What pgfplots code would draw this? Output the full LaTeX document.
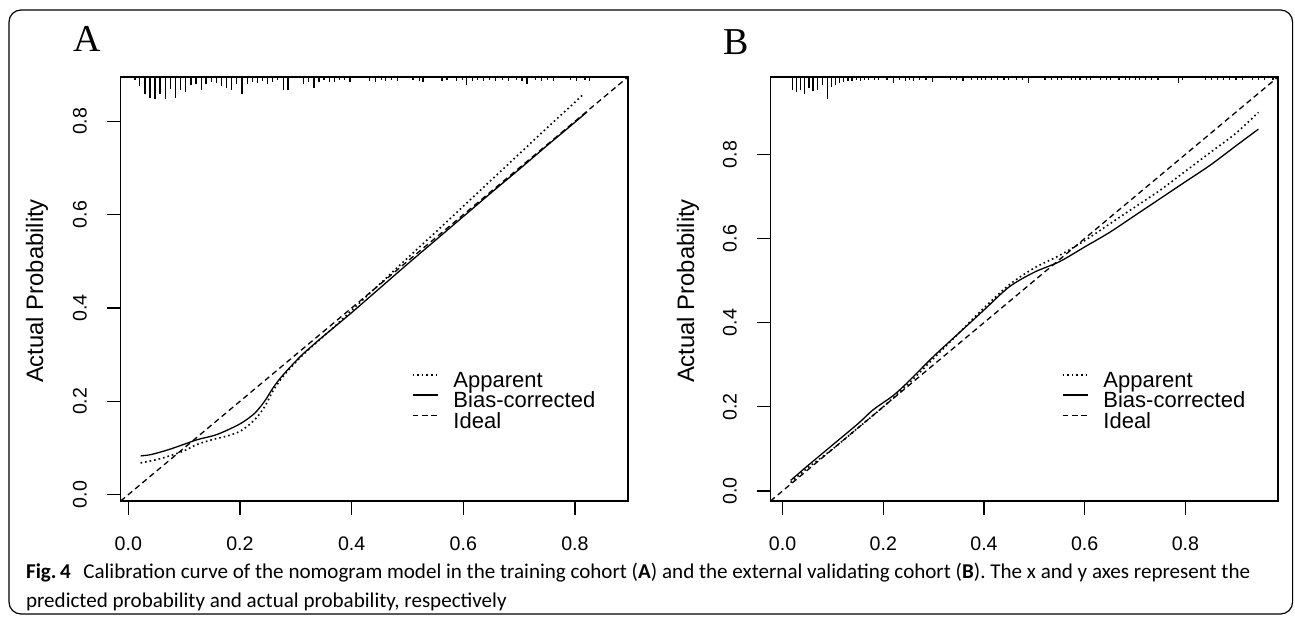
\documentclass[border=0pt]{standalone}
\usepackage{pgfplots}
\pgfplotsset{compat=1.18}
\usepackage{pgfplotstable}
\usepackage{graphicx}
\usepackage{fontspec}
\setmainfont{Liberation Sans}
\newfontfamily\serifA{Liberation Serif}
\newfontfamily\capfont{Carlito}

% ---------- Panel A ----------
\pgfplotstableread{
x y
0.022 0.068
0.050 0.075
0.071 0.082
0.100 0.094
0.124 0.108
0.154 0.119
0.178 0.126
0.202 0.137
0.226 0.160
0.244 0.188
0.261 0.226
0.279 0.256
0.309 0.295
0.339 0.328
0.370 0.361
0.400 0.395
0.450 0.451
0.500 0.507
0.550 0.562
0.600 0.618
0.650 0.674
0.700 0.730
0.750 0.786
0.800 0.841
0.814 0.857
}\appA
\pgfplotstableread{
x y
0.022 0.083
0.041 0.086
0.071 0.096
0.100 0.108
0.124 0.118
0.154 0.127
0.175 0.137
0.202 0.153
0.226 0.174
0.244 0.200
0.261 0.232
0.279 0.259
0.309 0.297
0.339 0.329
0.368 0.358
0.400 0.390
0.450 0.442
0.500 0.494
0.550 0.545
0.600 0.596
0.650 0.647
0.700 0.697
0.750 0.748
0.800 0.798
0.8215 0.820
}\biasA
\pgfplotstableread{
x len
0.0120 2.7
0.0198 9.3
0.0300 16.7
0.0389 21
0.0478 22.3
0.0568 16.7
0.0663 22.3
0.0759 11.7
0.0849 20.7
0.0938 13.3
0.1028 15
0.1123 8.3
0.1213 7.3
0.1308 13.3
0.1392 6.7
0.1487 4.7
0.1577 5.7
0.1673 9
0.1762 10.7
0.1852 12.7
0.1942 7.3
0.2037 17.3
0.2132 6.7
0.2221 5
0.2311 6
0.2400 4.3
0.2497 7.3
0.2586 5
0.2676 3.3
0.2776 13.3
0.2860 12.7
0.3135 7.3
0.3231 5
0.3326 10.7
0.3416 5
0.3505 3.3
0.3600 5
0.3690 5
0.3779 3.3
0.3876 3.3
0.3971 5
0.4320 4
0.4430 5
0.4530 3.3
0.4610 4
0.4710 3.3
0.4820 4
0.5100 3.3
0.5210 4
0.5280 5
0.5620 4
0.5710 3.3
0.5880 4
0.5990 3.3
0.6060 8
0.6160 4
0.6250 3.3
0.6360 4
0.6470 3.3
0.6580 4
0.6700 3.3
0.6810 4
0.6960 3.3
0.7050 4
0.7140 7
0.7290 3.3
0.7400 4
0.7510 3.3
0.7610 4
0.7920 3.3
0.8030 4
0.8180 3.3
0.8260 4
}\rugA

% ---------- Panel B ----------
\pgfplotstableread{
x y
0.016 0.020
0.050 0.055
0.100 0.100
0.150 0.150
0.200 0.200
0.250 0.255
0.300 0.315
0.350 0.375
0.400 0.435
0.450 0.490
0.500 0.530
0.550 0.560
0.600 0.595
0.650 0.635
0.700 0.675
0.750 0.715
0.800 0.760
0.850 0.805
0.900 0.850
0.945 0.900
}\appB
\pgfplotstableread{
x y
0.016 0.025
0.050 0.060
0.100 0.110
0.150 0.160
0.180 0.193
0.220 0.227
0.250 0.260
0.300 0.320
0.350 0.375
0.400 0.430
0.450 0.485
0.500 0.520
0.550 0.545
0.600 0.580
0.650 0.615
0.700 0.655
0.750 0.695
0.800 0.735
0.850 0.775
0.900 0.820
0.945 0.860
}\biasB
\pgfplotstableread{
x len
0.0196 13
0.0278 15
0.0360 13
0.0441 17
0.0523 11
0.0604 14
0.0686 13
0.0792 8
0.0890 22
0.0971 10
0.1053 8
0.1134 6
0.1216 5
0.1298 4
0.1379 4
0.1461 3
0.1542 4
0.1624 3
0.1706 3
0.1828 3
0.1910 3
0.2072 3
0.2195 6
0.2317 3
0.2440 4
0.2521 3
0.2603 4
0.2725 3
0.2848 3
0.2970 5
0.3337 3
0.3459 3
0.3582 4
0.3745 3
0.3867 3
0.3949 3
0.4030 3
0.4153 3
0.4275 3
0.4397 3
0.4479 3
0.4642 3
0.4764 3
0.4887 6
0.5213 3
0.5336 3
0.5458 3
0.5540 3
0.5743 3
0.5825 3
0.5907 3
0.6029 3
0.6110 3
0.6314 3
0.6437 3
0.6518 3
0.6681 3
0.6804 3
0.6885 3
0.7008 3
0.7089 3
0.7212 3
0.7334 3
0.7456 3
0.7864 6
0.7946 3
0.8394 3
0.8517 3
0.8639 3
0.8761 3
0.8884 3
0.9006 3
0.9129 3
0.9333 3
0.9455 3
0.9578 3
0.9741 3
}\rugB

\pgfplotsset{
  calib/.style={
    scale only axis,
    anchor=south west,
    height=212pt,
    axis line style={line width=0.6pt, black},
    tick style={line width=0.6pt, black},
    tick align=outside,
    major tick length=6.75pt,
    xtick pos=left, ytick pos=left,
    xtick={0,0.2,0.4,0.6,0.8},
    xticklabels={0.0,0.2,0.4,0.6,0.8},
    ytick={0,0.2,0.4,0.6,0.8},
    yticklabels={0.0,0.2,0.4,0.6,0.8},
    xticklabel style={font=\fontsize{9.8}{11}\selectfont, anchor=center, yshift=-14.75pt},
    yticklabel style={font=\fontsize{9.8}{11}\selectfont, xshift=-13.6pt, rotate=90, anchor=center},
    legend style={at={(0.574,0.305)}, anchor=north west, draw=none, fill=none,
      inner sep=0pt, outer sep=0pt, row sep=0pt,
      nodes={inner sep=0pt, text height=8pt, text depth=2.15pt, font=\fontsize{11}{12}\selectfont},
      /tikz/every odd column/.append style={column sep=7.5pt}},
    legend cell align=left,
    legend image code/.code={\draw[##1] (0pt,3.5pt) -- (12.5pt,3.5pt);},
  },
  appst/.style={black, line width=0.8pt, dash pattern=on 0.8pt off 1.5pt},
  biasst/.style={black, line width=0.65pt},
  idealst/.style={black, line width=0.65pt, dash pattern=on 2.8pt off 1.9pt},
}

\begin{document}
\begin{tikzpicture}[x=1pt,y=1pt]
\path[use as bounding box] (0,0) rectangle (647.5,308.5);
\draw[line width=0.6pt, rounded corners=6pt] (4.5,1.5) rectangle (646.3,303.5);

% Panel A
\begin{axis}[calib, at={(60.35pt,58pt)}, width=253.65pt,
  xmin=-0.0136, xmax=0.895, ymin=-0.0136, ymax=0.895]
\addplot[appst, smooth] table[x=x,y=y] {\appA};
\addlegendentry{Apparent}
\addplot[biasst, smooth] table[x=x,y=y] {\biasA};
\addlegendentry{Bias-corrected}
\addplot[idealst] coordinates {(-0.0136,-0.0136) (0.895,0.895)};
\addlegendentry{Ideal}
\addplot[black, line width=0.6pt, forget plot, quiver={u=0, v=-\thisrow{len}/466.6}]
  table[x=x, y expr=0.895] {\rugA};
\end{axis}

% Panel B
\begin{axis}[calib, at={(385.25pt,58pt)}, width=253.75pt,
  xmin=-0.024, xmax=0.984, ymin=-0.024, ymax=0.984]
\addplot[appst, smooth] table[x=x,y=y] {\appB};
\addlegendentry{Apparent}
\addplot[biasst, smooth] table[x=x,y=y] {\biasB};
\addlegendentry{Bias-corrected}
\addplot[idealst] coordinates {(-0.024,-0.024) (0.984,0.984)};
\addlegendentry{Ideal}
\addplot[black, line width=0.6pt, forget plot, quiver={u=0, v=-\thisrow{len}/420}]
  table[x=x, y expr=0.984] {\rugB};
\end{axis}

% panel letters
\node[anchor=base west, inner sep=0pt, font=\serifA\fontsize{19}{20}\selectfont] at (36.5,282.5) {A};
\node[anchor=base west, inner sep=0pt, font=\serifA\fontsize{19}{20}\selectfont] at (361.5,281) {B};

% y labels
\node[rotate=90, inner sep=0pt, font=\fontsize{11.9}{13}\selectfont] at (18.5,163) {Actual Probability};
\node[rotate=90, inner sep=0pt, font=\fontsize{11.9}{13}\selectfont] at (344,163) {Actual Probability};

% caption
\node[anchor=base west, inner sep=0pt] at (12.85,19.5) {\resizebox{612pt}{!}{\capfont\fontsize{10.6}{14.9}\selectfont
\begin{tabular}[t]{@{}l@{}}
\textbf{Fig.\,4}\hspace{0.6em}Calibration curve of the nomogram model in the training cohort (\textbf{A}) and the external validating cohort (\textbf{B}). The x and y axes represent the\\
predicted probability and actual probability, respectively
\end{tabular}}};
\end{tikzpicture}
\end{document}
